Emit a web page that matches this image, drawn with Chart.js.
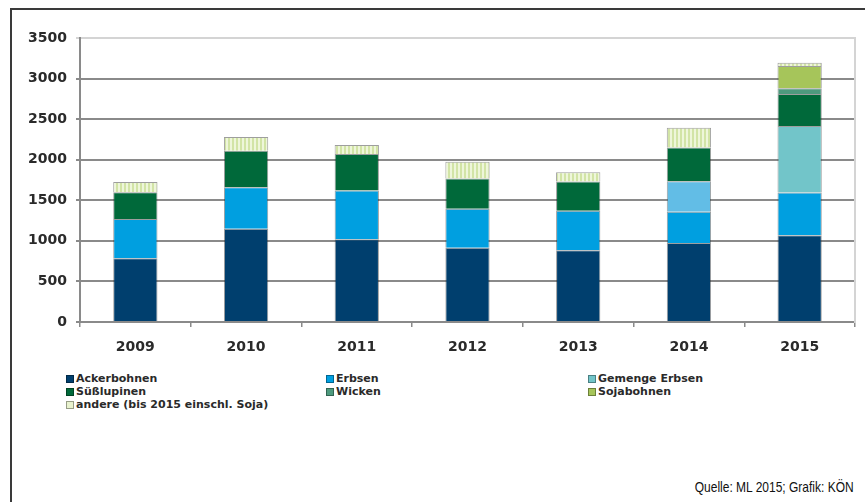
<!DOCTYPE html>
<html>
<head>
<meta charset="utf-8">
<script src="https://cdn.jsdelivr.net/npm/chart.js@4"></script>
<style>
  html, body { margin: 0; padding: 0; background: #fff; overflow: hidden; }
  body { width: 865px; height: 502px; position: relative; font-family: "DejaVu Sans", sans-serif; }
  #frame { position: absolute; left: 10px; top: 8px; width: 900px; height: 600px;
           border-left: 2px solid #3a3a3a; border-top: 2px solid #3a3a3a; }
  #wrap { position: absolute; left: 0; top: 0; width: 865px; height: 360px; }
  .lg { position: absolute; font-size: 11px; font-weight: bold; color: #2a2a2a; white-space: nowrap; line-height: 12px; }
  .lg i { display: inline-block; width: 8px; height: 8px; margin-right: 2px; vertical-align: -1px;
          border: 1px solid rgba(0,0,0,0.35); box-sizing: border-box; }
  #src { position: absolute; right: 11px; top: 478px; font-family: "Liberation Sans", Arial, sans-serif;
         font-size: 15px; color: #111; transform: scaleX(0.8); transform-origin: right center; }
</style>
</head>
<body>
<div id="frame"></div>
<div id="wrap"><canvas id="myChart"></canvas></div>
<div id="legend"></div>
<div id="src">Quelle: ML 2015; Grafik: KÖN</div>
<script>
const years = ['2009', '2010', '2011', '2012', '2013', '2014', '2015'];
const ackerbohnen  = [785, 1150, 1020, 915, 885, 975, 1070];
const erbsen       = [485, 510, 600, 480, 485, 385, 525];
const gemenge      = [null, null, null, null, null, 375, 820];
const suesslupinen = [330, 450, 450, 375, 360, 415, 395];
const wicken       = [null, null, null, null, null, null, 70];
const sojabohnen   = [null, null, null, null, null, null, 275];
const andere       = [125, 170, 110, 205, 115, 245, 40];
const yTicks = [0, 500, 1000, 1500, 2000, 2500, 3000, 3500];

// striped fill for "andere"
function stripes() {
  const c = document.createElement('canvas');
  c.width = 4; c.height = 4;
  const g = c.getContext('2d');
  g.fillStyle = '#eef6da'; g.fillRect(0, 0, 4, 4);
  g.fillStyle = '#d2e4a6'; g.fillRect(0, 0, 2, 4);
  return g.createPattern(c, 'repeat');
}
const andereFill = stripes();

const series = [
  { label: 'Ackerbohnen', data: ackerbohnen, color: '#003f6e' },
  { label: 'Erbsen', data: erbsen, color: '#009fe0' },
  { label: 'Gemenge Erbsen', data: gemenge, color: ['#6ec4cb', '#6ec4cb', '#6ec4cb', '#6ec4cb', '#6ec4cb', '#62bde6', '#72c5c9'], swatch: '#72c5c9' },
  { label: 'Süßlupinen', data: suesslupinen, color: '#00693a' },
  { label: 'Wicken', data: wicken, color: '#4e9a7e' },
  { label: 'Sojabohnen', data: sojabohnen, color: '#a6c55a' },
  { label: 'andere (bis 2015 einschl. Soja)', data: andere, color: andereFill, swatch: '#e8f2ce' }
];

const chart = new Chart(document.getElementById('myChart').getContext('2d'), {
  type: 'bar',
  data: {
    labels: years,
    datasets: series.map(s => ({
      label: s.label,
      data: s.data,
      backgroundColor: s.color,
      borderColor: 'rgba(40,40,40,0.45)',
      borderWidth: 1,
      categoryPercentage: 0.8,
      barPercentage: 0.5
    }))
  },
  options: {
    responsive: true,
    maintainAspectRatio: false,
    animation: false,
    layout: { padding: { top: 38, right: 10, left: 0, bottom: 0 } },
    plugins: { legend: { display: false }, tooltip: { enabled: false } },
    scales: {
      x: {
        stacked: true,
        afterFit: s => { s.height = 38; },
        grid: { drawOnChartArea: false, tickLength: 5, color: '#8a8a8a', lineWidth: 1.5 },
        border: { color: '#8a8a8a', width: 2 },
        ticks: { padding: 12, color: '#2a2a2a', font: { family: 'DejaVu Sans', size: 14, weight: 'bold' } }
      },
      y: {
        stacked: true,
        min: 0,
        max: 3500,
        afterFit: s => { s.width = 80; },
        afterBuildTicks: s => { s.ticks = yTicks.map(v => ({ value: v })); },
        grid: {
          color: c => c.tick && c.tick.value === 3500 ? '#d4d4d4' : '#8a8a8a',
          lineWidth: 2,
          tickLength: 4
        },
        border: { color: '#8a8a8a', width: 2 },
        ticks: {
          padding: 9,
          color: '#2a2a2a',
          font: { family: 'DejaVu Sans', size: 14, weight: 'bold' },
          callback: v => String(v)
        }
      },
      yRight: {
        position: 'right',
        min: 0,
        max: 3500,
        afterFit: s => { s.width = 0; },
        grid: { drawOnChartArea: false, drawTicks: false },
        border: { color: '#d4d4d4', width: 2 },
        ticks: { display: false }
      }
    }
  }
});

// legend, three columns like the original
const cols = [66, 326, 588];
const rows = [373, 386, 399];
const legend = document.getElementById('legend');
series.forEach((s, n) => {
  const el = document.createElement('div');
  el.className = 'lg';
  el.style.left = cols[n % 3] + 'px';
  el.style.top = rows[Math.floor(n / 3)] + 'px';
  const sw = s.swatch || s.color;
  el.innerHTML = '<i style="background:' + sw + '"></i>' + s.label;
  legend.appendChild(el);
});
</script>
</body>
</html>
